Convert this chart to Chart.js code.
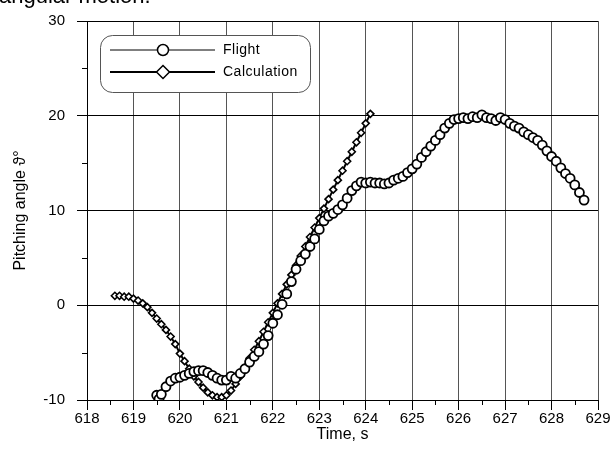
<!DOCTYPE html>
<html>
<head>
<meta charset="utf-8">
<script src="https://cdn.jsdelivr.net/npm/chart.js@4.4.1/dist/chart.umd.min.js"></script>
<style>
  html, body { margin: 0; padding: 0; background: #fff; }
  #wrap { position: relative; width: 613px; height: 460px; }
</style>
</head>
<body>
<div id="wrap"><canvas id="pitch" width="613" height="460"></canvas></div>
<script>
// measured pitch angle
const flightTime = [
  619.5, 619.55, 619.6, 619.7, 619.8, 619.9, 620.0, 620.1, 620.2, 620.3, 620.4, 620.5,
  620.6, 620.7, 620.8, 620.9, 621.0, 621.1, 621.2, 621.3, 621.4, 621.5, 621.6, 621.7,
  621.8, 621.9, 622.0, 622.1, 622.2, 622.3, 622.4, 622.5, 622.6, 622.7, 622.8, 622.9,
  623.0, 623.1, 623.2, 623.3, 623.4, 623.5, 623.6, 623.7, 623.8, 623.9, 624.0, 624.1,
  624.2, 624.3, 624.4, 624.5, 624.6, 624.7, 624.8, 624.9, 625.0, 625.1, 625.2, 625.3,
  625.4, 625.5, 625.6, 625.7, 625.8, 625.9, 626.0, 626.1, 626.2, 626.3, 626.4, 626.5,
  626.6, 626.7, 626.8, 626.9, 627.0, 627.1, 627.2, 627.3, 627.4, 627.5, 627.6, 627.7,
  627.8, 627.9, 628.0, 628.1, 628.2, 628.3, 628.4, 628.5, 628.6, 628.7,
];
const flightAngle = [
  -9.5, -9.9, -9.4, -8.6, -8.0, -7.7, -7.6, -7.4, -7.2, -7.0, -6.9, -6.9,
  -7.1, -7.4, -7.7, -7.9, -7.9, -7.5, -7.7, -7.2, -6.7, -6.0, -5.4, -4.9,
  -4.1, -3.2, -1.9, -1.0, 0.1, 1.2, 2.5, 3.8, 4.7, 5.4, 6.2, 7.0,
  8.0, 8.9, 9.4, 9.7, 10.1, 10.6, 11.3, 12.1, 12.6, 13.0, 12.9, 13.0,
  12.9, 12.9, 12.8, 12.9, 13.2, 13.4, 13.6, 14.0, 14.4, 14.9, 15.6, 16.2,
  16.8, 17.4, 18.0, 18.7, 19.2, 19.6, 19.7, 19.8, 19.7, 19.9, 19.8, 20.1,
  19.8, 19.7, 19.5, 19.8, 19.6, 19.2, 18.9, 18.7, 18.3, 18.0, 17.7, 17.4,
  16.9, 16.3, 15.7, 15.2, 14.5, 13.9, 13.4, 12.7, 11.9, 11.1,
];

// computed pitch angle
const calcTime = [
  618.6, 618.7, 618.8, 618.9, 619.0, 619.1, 619.2, 619.3, 619.4, 619.5, 619.6, 619.7,
  619.8, 619.9, 620.0, 620.1, 620.2, 620.3, 620.4, 620.5, 620.6, 620.7, 620.8, 620.9,
  621.0, 621.1, 621.2, 621.3, 621.4, 621.5, 621.6, 621.7, 621.8, 621.9, 622.0, 622.1,
  622.2, 622.3, 622.4, 622.5, 622.6, 622.7, 622.8, 622.9, 623.0, 623.1, 623.2, 623.3,
  623.4, 623.5, 623.6, 623.7, 623.8, 623.9, 624.0, 624.1,
];
const calcAngle = [
  1.0, 1.0, 0.9, 0.9, 0.7, 0.5, 0.2, -0.2, -0.8, -1.4, -2.0, -2.6,
  -3.3, -4.1, -5.1, -5.9, -6.7, -7.5, -8.1, -8.7, -9.2, -9.5, -9.7, -9.7,
  -9.5, -9.0, -8.3, -7.5, -6.6, -5.6, -4.7, -3.8, -2.8, -1.8, -0.8, 0.2,
  1.2, 2.2, 3.2, 4.2, 5.2, 6.2, 7.2, 8.2, 9.2, 10.2, 11.2, 12.2,
  13.2, 14.2, 15.2, 16.2, 17.2, 18.2, 19.2, 20.2,
];

const seriesNames = ['Flight', 'Calculation'];
const xRange = [618, 629];
const yRange = [-10, 30];

const FONT = 'Arial, "Liberation Sans", sans-serif';

function toPoints(xs, ys) {
  return xs.map((x, i) => ({x, y: ys[i]}));
}

function drawMarker(ctx, style, x, y, r) {
  ctx.beginPath();
  if (style === 'circle') {
    ctx.arc(x, y, r, 0, Math.PI * 2);
  } else {
    ctx.moveTo(x, y - r);
    ctx.lineTo(x + r, y);
    ctx.lineTo(x, y + r);
    ctx.lineTo(x - r, y);
    ctx.closePath();
  }
  ctx.fill();
  ctx.stroke();
}

// half-second and 5-degree ticks outside the frame
const minorTicks = {
  id: 'minorTicks',
  afterDraw(chart) {
    const {ctx, chartArea, scales: {x, y}} = chart;
    ctx.save();
    ctx.strokeStyle = '#000';
    ctx.lineWidth = 1;
    ctx.beginPath();
    for (let t = x.min + 0.5; t < x.max; t += 1) {
      const px = Math.round(x.getPixelForValue(t)) + 0.5;
      ctx.moveTo(px, chartArea.bottom);
      ctx.lineTo(px, chartArea.bottom + 5);
    }
    for (let v = y.min + 5; v < y.max; v += 10) {
      const py = Math.round(y.getPixelForValue(v)) + 0.5;
      ctx.moveTo(chartArea.left - 5, py);
      ctx.lineTo(chartArea.left, py);
    }
    ctx.stroke();
    ctx.restore();
  },
};

// rounded legend box in the upper left of the plot
const boxLegend = {
  id: 'boxLegend',
  afterDraw(chart) {
    const ctx = chart.ctx;
    const left = 100, top = 35, w = 210, h = 57;
    ctx.save();
    ctx.fillStyle = '#fff';
    ctx.strokeStyle = '#555';
    ctx.lineWidth = 1;
    ctx.beginPath();
    ctx.roundRect(left + 0.5, top + 0.5, w, h, 12);
    ctx.fill();
    ctx.stroke();

    chart.data.datasets.forEach((ds, i) => {
      const y = top + 15 + i * 22;
      ctx.strokeStyle = ds.borderColor;
      ctx.lineWidth = ds.borderWidth;
      ctx.beginPath();
      ctx.moveTo(left + 10, y);
      ctx.lineTo(left + 115, y);
      ctx.stroke();
      ctx.fillStyle = '#fff';
      ctx.lineWidth = 1.5;
      drawMarker(ctx, ds.pointStyle, left + 63, y, ds.pointStyle === 'circle' ? 5.5 : 6.5);
      ctx.fillStyle = '#000';
      ctx.font = '14px ' + FONT;
      ctx.letterSpacing = '0.5px';
      ctx.textBaseline = 'middle';
      ctx.fillText(ds.label, left + 123, y);
    });
    ctx.restore();
  },
};

// caption line running off the top edge
const topCaption = {
  id: 'topCaption',
  afterDraw(chart) {
    const ctx = chart.ctx;
    ctx.save();
    ctx.fillStyle = '#000';
    ctx.font = '22px ' + FONT;
    ctx.textBaseline = 'alphabetic';
    ctx.fillText('angular motion.', -1, 3);
    ctx.restore();
  },
};

const tickFont = {family: FONT, size: 15};
const titleFont = {family: FONT, size: 16};

const ctx = document.getElementById('pitch').getContext('2d');
const chart = new Chart(ctx, {
  type: 'line',
  data: {
    datasets: [
      {
        label: seriesNames[0],
        data: toPoints(flightTime, flightAngle),
        borderColor: '#000',
        borderWidth: 1,
        backgroundColor: '#fff',
        pointStyle: 'circle',
        pointRadius: 4.5,
        pointBorderWidth: 1.8,
        pointBorderColor: '#000',
        pointBackgroundColor: '#fff',
        tension: 0,
      },
      {
        label: seriesNames[1],
        data: toPoints(calcTime, calcAngle),
        borderColor: '#000',
        borderWidth: 2,
        backgroundColor: '#fff',
        pointStyle: 'rectRot',
        pointRadius: 3.5,
        pointBorderWidth: 1.6,
        pointBorderColor: '#000',
        pointBackgroundColor: '#fff',
        tension: 0,
      },
    ],
  },
  options: {
    responsive: false,
    animation: false,
    devicePixelRatio: 1,
    layout: {
      padding: {left: 0, right: 15, top: 18, bottom: 0},
    },
    plugins: {
      legend: {display: false},
      tooltip: {enabled: false},
    },
    scales: {
      x: {
        type: 'linear',
        min: xRange[0],
        max: xRange[1],
        afterFit(scale) { scale.height = 60; },
        ticks: {
          stepSize: 1,
          autoSkip: false,
          maxRotation: 0,
          padding: 0,
          color: '#000',
          font: tickFont,
        },
        grid: {
          color: '#555',
          lineWidth: 1,
          tickLength: 10,
          tickColor: '#000',
        },
        border: {display: true, color: '#000', width: 1},
        title: {
          display: true,
          text: 'Time, s',
          color: '#000',
          font: titleFont,
          padding: {top: 0, bottom: 16},
        },
      },
      y: {
        min: yRange[0],
        max: yRange[1],
        afterFit(scale) { scale.width = 87; },
        ticks: {
          stepSize: 10,
          padding: 12,
          color: '#000',
          font: tickFont,
        },
        grid: {
          color: '#000',
          lineWidth: 1,
          tickLength: 10,
          tickColor: '#000',
        },
        border: {display: true, color: '#000', width: 1},
        title: {
          display: true,
          text: 'Pitching angle ϑ°',
          color: '#000',
          font: titleFont,
          padding: {top: 11, bottom: 0},
        },
      },
    },
  },
  plugins: [minorTicks, boxLegend, topCaption],
});
</script>
</body>
</html>
